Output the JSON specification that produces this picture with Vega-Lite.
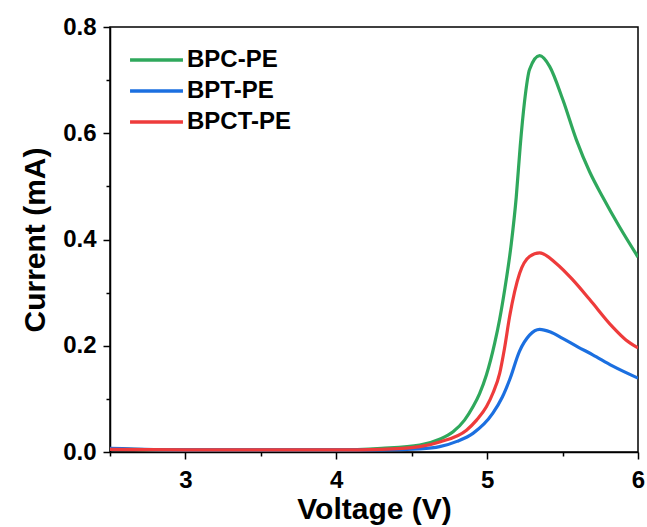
{
  "$schema": "https://vega.github.io/schema/vega-lite/v6.json",
  "width": 528,
  "height": 425,
  "autosize": {"type": "none"},
  "padding": {"left": 110, "top": 27, "right": 9, "bottom": 75},
  "background": "white",
  "config": {
    "view": {"stroke": "black", "strokeWidth": 1.5},
    "font": "Liberation Sans",
    "axis": {
      "domainColor": "black", "domainWidth": 1.5, "tickColor": "black", "tickWidth": 1.5,
      "labelFont": "Liberation Sans", "labelFontWeight": "bold", "labelFontSize": 24, "labelColor": "black",
      "titleFont": "Liberation Sans", "titleFontWeight": "bold", "titleFontSize": 30, "titleColor": "black",
      "grid": false
    }
  },
  "data": {"values": [
    {"s": "BPC-PE", "V": 2.5, "I": 0.006}, {"s": "BPC-PE", "V": 3.0, "I": 0.004}, {"s": "BPC-PE", "V": 3.5, "I": 0.004}, {"s": "BPC-PE", "V": 4.0, "I": 0.004}, {"s": "BPC-PE", "V": 4.3, "I": 0.007},
    {"s": "BPC-PE", "V": 4.553, "I": 0.013}, {"s": "BPC-PE", "V": 4.685, "I": 0.024}, {"s": "BPC-PE", "V": 4.774, "I": 0.038}, {"s": "BPC-PE", "V": 4.85, "I": 0.06}, {"s": "BPC-PE", "V": 4.906, "I": 0.085}, {"s": "BPC-PE", "V": 4.95, "I": 0.11}, {"s": "BPC-PE", "V": 4.995, "I": 0.145}, {"s": "BPC-PE", "V": 5.05, "I": 0.205}, {"s": "BPC-PE", "V": 5.083, "I": 0.25}, {"s": "BPC-PE", "V": 5.116, "I": 0.305}, {"s": "BPC-PE", "V": 5.16, "I": 0.392}, {"s": "BPC-PE", "V": 5.193, "I": 0.48}, {"s": "BPC-PE", "V": 5.219, "I": 0.575}, {"s": "BPC-PE", "V": 5.248, "I": 0.66}, {"s": "BPC-PE", "V": 5.281, "I": 0.72}, {"s": "BPC-PE", "V": 5.348, "I": 0.746}, {"s": "BPC-PE", "V": 5.414, "I": 0.726}, {"s": "BPC-PE", "V": 5.502, "I": 0.663}, {"s": "BPC-PE", "V": 5.591, "I": 0.588}, {"s": "BPC-PE", "V": 5.68, "I": 0.527}, {"s": "BPC-PE", "V": 5.766, "I": 0.48}, {"s": "BPC-PE", "V": 5.877, "I": 0.424}, {"s": "BPC-PE", "V": 6.0, "I": 0.367},
    {"s": "BPT-PE", "V": 2.5, "I": 0.007}, {"s": "BPT-PE", "V": 3.0, "I": 0.004}, {"s": "BPT-PE", "V": 3.5, "I": 0.004}, {"s": "BPT-PE", "V": 4.0, "I": 0.004}, {"s": "BPT-PE", "V": 4.3, "I": 0.004},
    {"s": "BPT-PE", "V": 4.553, "I": 0.006}, {"s": "BPT-PE", "V": 4.685, "I": 0.01}, {"s": "BPT-PE", "V": 4.8, "I": 0.02}, {"s": "BPT-PE", "V": 4.906, "I": 0.035}, {"s": "BPT-PE", "V": 5.038, "I": 0.073}, {"s": "BPT-PE", "V": 5.1, "I": 0.103}, {"s": "BPT-PE", "V": 5.149, "I": 0.136}, {"s": "BPT-PE", "V": 5.215, "I": 0.19}, {"s": "BPT-PE", "V": 5.281, "I": 0.22}, {"s": "BPT-PE", "V": 5.348, "I": 0.231}, {"s": "BPT-PE", "V": 5.42, "I": 0.226}, {"s": "BPT-PE", "V": 5.5, "I": 0.214}, {"s": "BPT-PE", "V": 5.6, "I": 0.198}, {"s": "BPT-PE", "V": 5.7, "I": 0.183}, {"s": "BPT-PE", "V": 5.83, "I": 0.162}, {"s": "BPT-PE", "V": 6.0, "I": 0.139},
    {"s": "BPCT-PE", "V": 2.5, "I": 0.005}, {"s": "BPCT-PE", "V": 3.0, "I": 0.004}, {"s": "BPCT-PE", "V": 3.5, "I": 0.004}, {"s": "BPCT-PE", "V": 4.0, "I": 0.004}, {"s": "BPCT-PE", "V": 4.3, "I": 0.005},
    {"s": "BPCT-PE", "V": 4.553, "I": 0.01}, {"s": "BPCT-PE", "V": 4.685, "I": 0.019}, {"s": "BPCT-PE", "V": 4.863, "I": 0.041}, {"s": "BPCT-PE", "V": 4.93, "I": 0.06}, {"s": "BPCT-PE", "V": 4.995, "I": 0.085}, {"s": "BPCT-PE", "V": 5.04, "I": 0.112}, {"s": "BPCT-PE", "V": 5.083, "I": 0.148}, {"s": "BPCT-PE", "V": 5.115, "I": 0.195}, {"s": "BPCT-PE", "V": 5.149, "I": 0.255}, {"s": "BPCT-PE", "V": 5.215, "I": 0.336}, {"s": "BPCT-PE", "V": 5.281, "I": 0.368}, {"s": "BPCT-PE", "V": 5.348, "I": 0.375}, {"s": "BPCT-PE", "V": 5.458, "I": 0.355}, {"s": "BPCT-PE", "V": 5.568, "I": 0.324}, {"s": "BPCT-PE", "V": 5.68, "I": 0.287}, {"s": "BPCT-PE", "V": 5.83, "I": 0.236}, {"s": "BPCT-PE", "V": 5.92, "I": 0.211}, {"s": "BPCT-PE", "V": 6.0, "I": 0.196}
  ]},
  "mark": {"type": "line", "interpolate": "monotone", "strokeWidth": 3.2, "clip": true},
  "encoding": {
    "x": {
      "field": "V", "type": "quantitative",
      "scale": {"domain": [2.5, 6], "nice": false, "zero": false},
      "axis": {
        "title": "Voltage (V)", "values": [2.5, 3, 3.5, 4, 4.5, 5, 5.5, 6],
        "labelExpr": "datum.value % 1 === 0 ? format(datum.value, 'd') : ''",
        "tickSize": {"condition": {"test": "datum.value % 1 === 0", "value": 7}, "value": 4},
        "labelPadding": 9, "titlePadding": 2, "labelFlush": false
      }
    },
    "y": {
      "field": "I", "type": "quantitative",
      "scale": {"domain": [0, 0.8], "nice": false},
      "axis": {
        "title": "Current (mA)", "values": [0, 0.1, 0.2, 0.3, 0.4, 0.5, 0.6, 0.7, 0.8],
        "labelExpr": "(round(datum.value * 10) % 2 === 0) ? format(datum.value, '.1f') : ''",
        "tickSize": {"condition": {"test": "round(datum.value * 10) % 2 === 0", "value": 7}, "value": 4},
        "labelPadding": 7, "titlePadding": 12, "labelFlush": false
      }
    },
    "color": {
      "field": "s", "type": "nominal",
      "scale": {"domain": ["BPC-PE", "BPT-PE", "BPCT-PE"], "range": ["#2fa85c", "#1b6fe0", "#ee3b3b"]},
      "legend": {
        "title": null, "orient": "none", "legendX": 18, "legendY": 21,
        "symbolType": "stroke", "symbolSize": 2800, "symbolStrokeWidth": 3.5, "clipHeight": 24,
        "labelFont": "Liberation Sans", "labelFontWeight": "bold", "labelFontSize": 24, "labelColor": "black",
        "labelOffset": 2, "rowPadding": 7, "padding": 0, "labelLimit": 300
      }
    }
  }
}
